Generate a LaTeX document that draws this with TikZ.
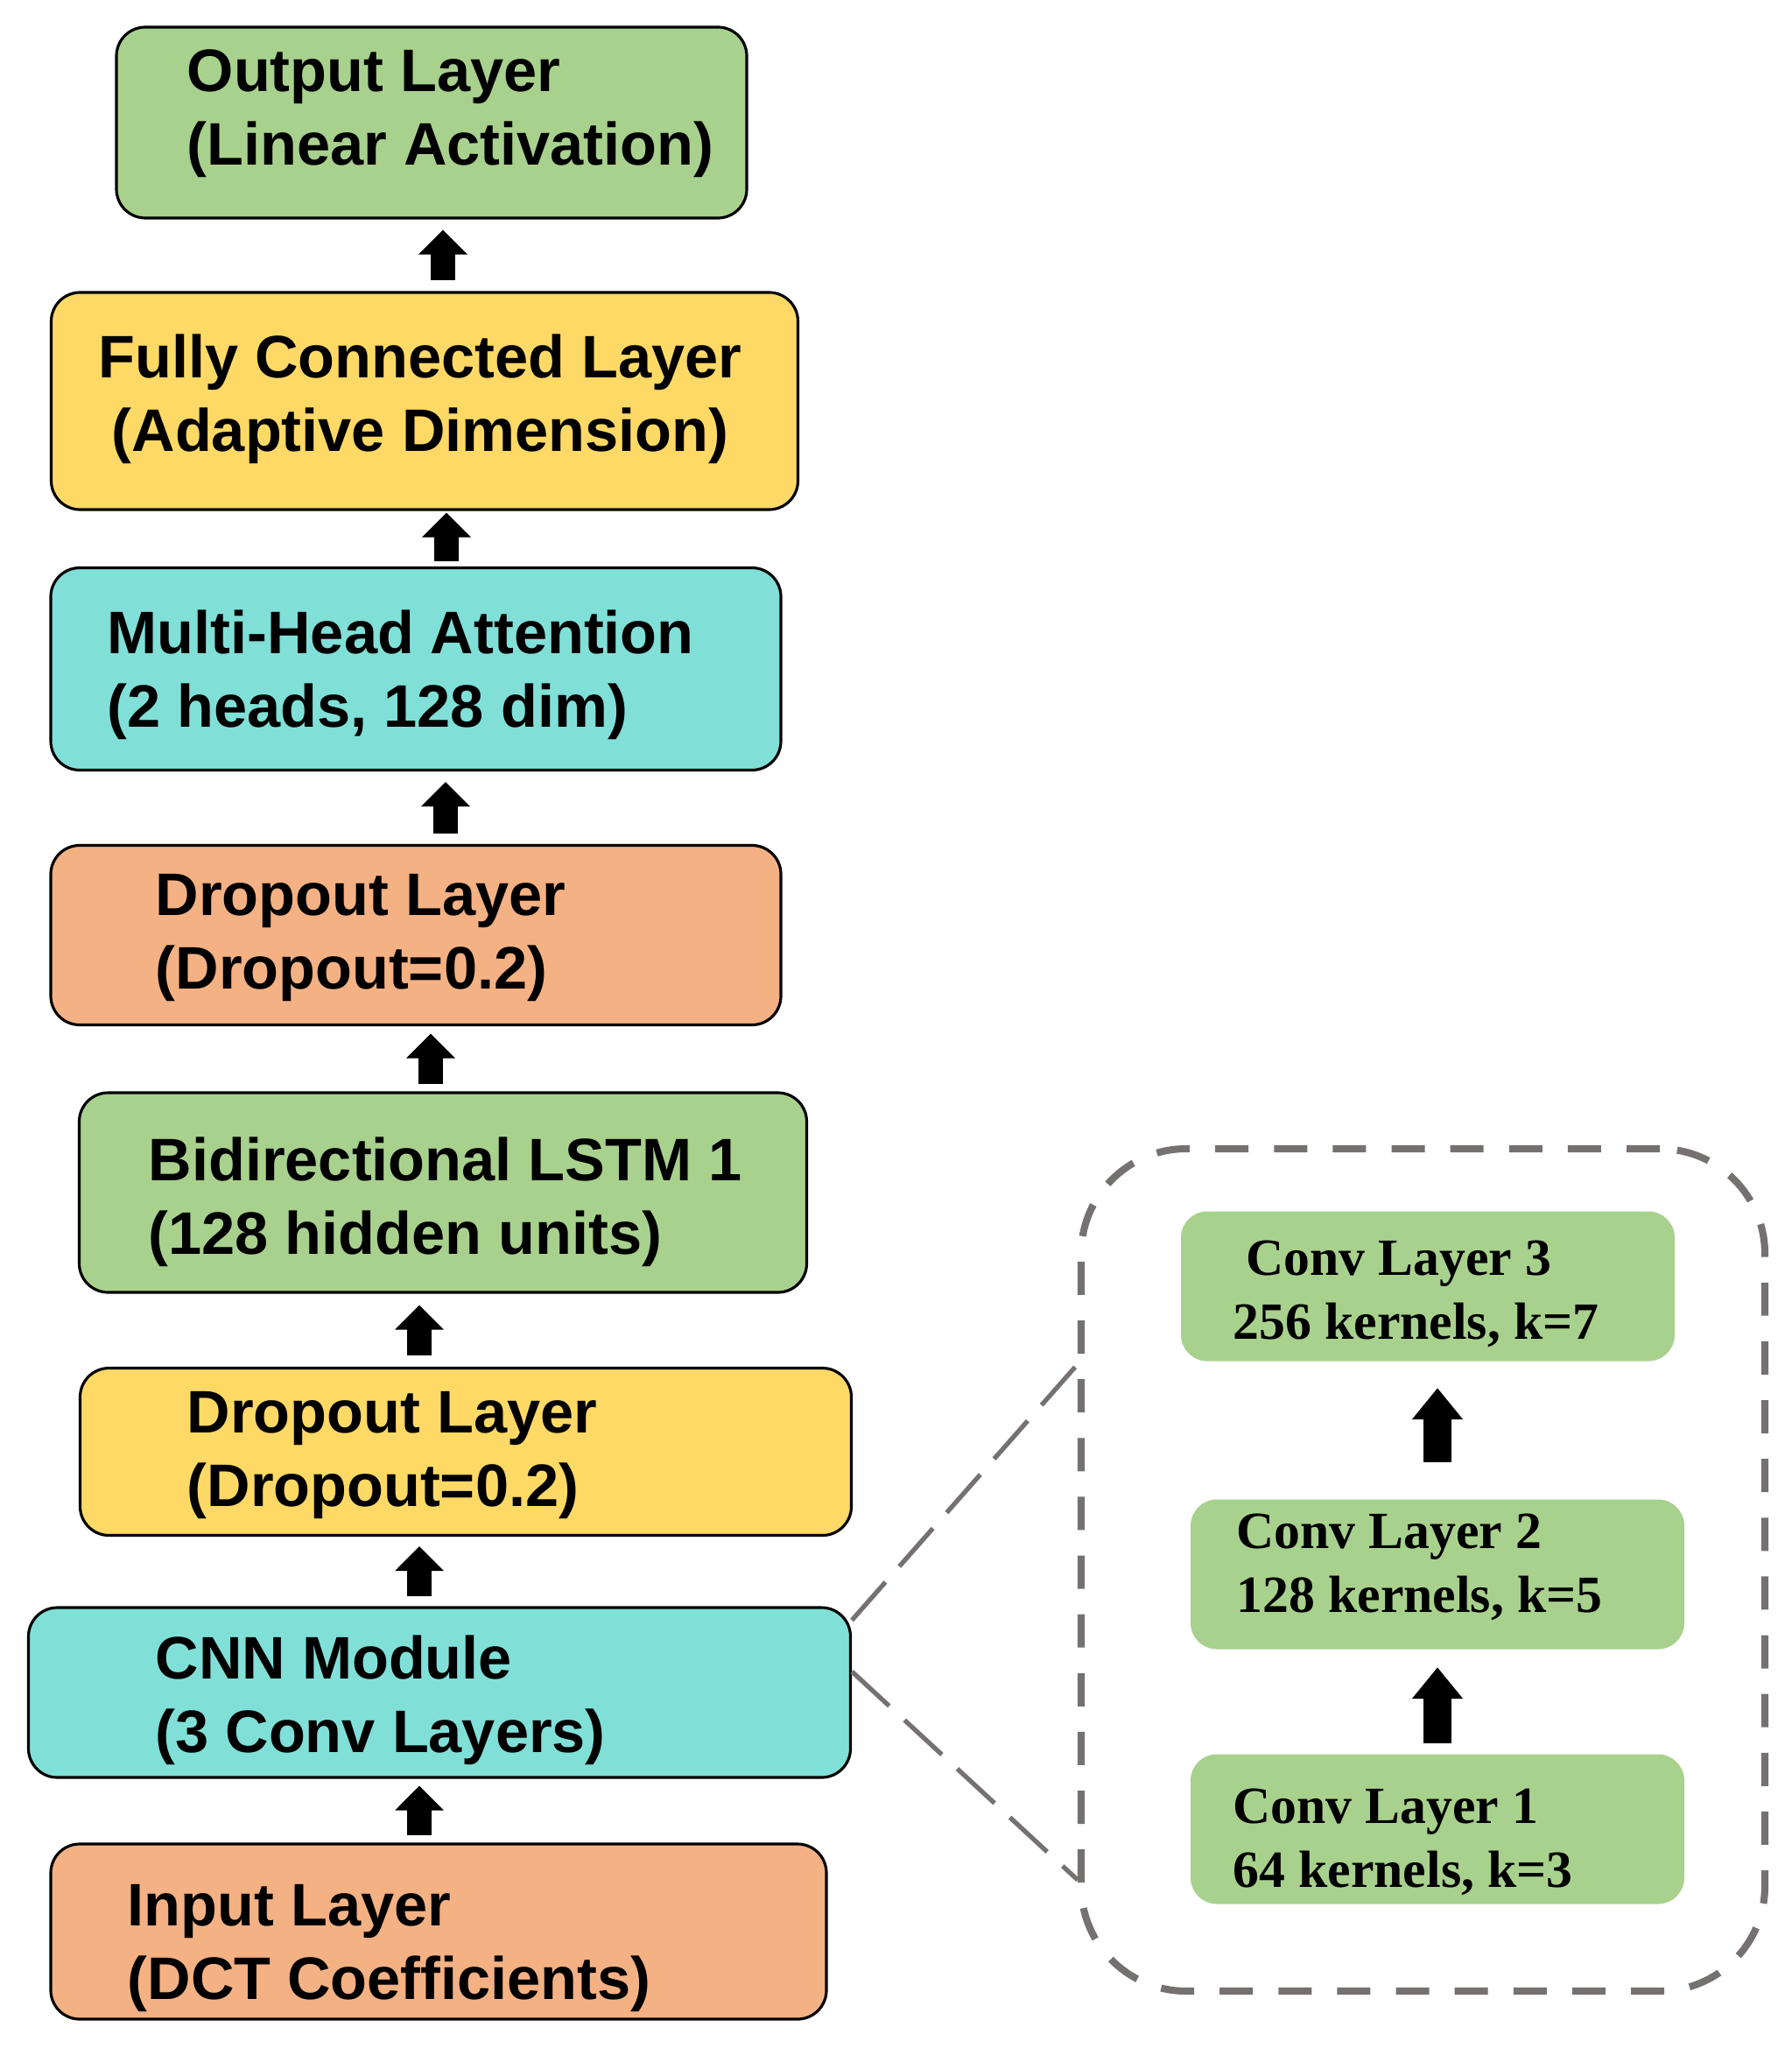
\documentclass[tikz,border=0pt]{standalone}
\usepackage{fontspec}
\setmainfont{Liberation Sans}
\newfontfamily\convfont{Liberation Serif}
\usetikzlibrary{arrows.meta}
\definecolor{laygreen}{RGB}{169,209,142}
\definecolor{layyellow}{RGB}{255,217,102}
\definecolor{laycyan}{RGB}{128,224,216}
\definecolor{layorange}{RGB}{244,177,131}
\definecolor{framegray}{RGB}{118,113,113}

\begin{document}
\begin{tikzpicture}[
	layer/.style={draw=black, line width=0.9pt, rounded corners=0.33cm, inner sep=0pt},
	conv/.style={fill=laygreen, rounded corners=0.3cm, inner sep=0pt, minimum width=5.64cm, minimum height=1.71cm},
	txt/.style={font=\fontsize{19.5}{23.8}\selectfont\bfseries, align=left, anchor=west, inner sep=0pt},
	convtxt/.style={font=\convfont\fontsize{17}{20.8}\selectfont\bfseries, align=left, anchor=west, inner sep=0pt},
	flow/.style={line width=0.28cm, -{Triangle[width=0.54cm,length=0.28cm]}, shorten <=0.12cm, shorten >=0.12cm},
	convflow/.style={line width=0.32cm, -{Triangle[width=0.56cm,length=0.36cm]}},
	zoomline/.style={framegray, line width=1.5pt, dash pattern=on 16.5pt off 6.8pt}
	]
	\useasboundingbox (0,0) rectangle (20.46,-23.39);

	% Main stack
	\node[layer, fill=laygreen, minimum width=7.20cm, minimum height=2.18cm] (out) at (4.93,-1.40) {};
	\node[layer, fill=layyellow, minimum width=8.53cm, minimum height=2.48cm] (fc) at (4.85,-4.58) {};
	\node[layer, fill=laycyan, minimum width=8.34cm, minimum height=2.31cm] (mha) at (4.75,-7.64) {};
	\node[layer, fill=layorange, minimum width=8.34cm, minimum height=2.05cm] (drop) at (4.75,-10.68) {};
	\node[layer, fill=laygreen, minimum width=8.31cm, minimum height=2.28cm] (lstm) at (5.06,-13.62) {};
	\node[layer, fill=layyellow, minimum width=8.81cm, minimum height=1.91cm] (dropb) at (5.32,-16.58) {};
	\node[layer, fill=laycyan, minimum width=9.39cm, minimum height=1.94cm] (cnn) at (5.02,-19.33) {};
	\node[layer, fill=layorange, minimum width=8.86cm, minimum height=2.00cm] (inp) at (5.01,-22.06) {};

	\node[txt] (outT) at (2.13,-1.30) {Output Layer\\(Linear Activation)};
	\node[txt, anchor=center, align=center] (fcT) at (4.80,-4.56) {Fully Connected Layer\\(Adaptive Dimension)};
	\node[txt] (mhaT) at (1.22,-7.71) {Multi-Head Attention\\(2 heads, 128 dim)};
	\node[txt] (dropT) at (1.77,-10.71) {Dropout Layer\\(Dropout=0.2)};
	\node[txt] (lstmT) at (1.69,-13.73) {Bidirectional LSTM 1\\(128 hidden units)};
	\node[txt] (dropbT) at (2.13,-16.62) {Dropout Layer\\(Dropout=0.2)};
	\node[txt] (cnnT) at (1.77,-19.42) {CNN Module\\(3 Conv Layers)};
	\node[txt] (inpT) at (1.45,-22.25) {Input Layer\\(DCT Coefficients)};

	% Arrows between layers
	\draw[flow, shorten <=0.08cm, shorten >=0.08cm] ([xshift=-0.22cm]inp.north) -- ([xshift=-0.22cm]inp.north |- cnn.south);
	\draw[flow, shorten <=0.11cm, shorten >=0.11cm] ([xshift=-0.23cm]cnn.north) -- ([xshift=-0.23cm]cnn.north |- dropb.south);
	\draw[flow, shorten <=0.13cm, shorten >=0.13cm] ([xshift=-0.53cm]dropb.north) -- ([xshift=-0.53cm]dropb.north |- lstm.south);
	\draw[flow, shorten <=0.085cm, shorten >=0.085cm] ([xshift=-0.14cm]lstm.north) -- ([xshift=-0.14cm]lstm.north |- drop.south);
	\draw[flow] ([xshift=0.34cm]drop.north) -- ([xshift=0.34cm]drop.north |- mha.south);
	\draw[flow, shorten <=0.06cm, shorten >=0.02cm] ([xshift=0.35cm]mha.north) -- ([xshift=0.35cm]mha.north |- fc.south);
	\draw[flow] ([xshift=0.21cm]fc.north) -- ([xshift=0.21cm]fc.north |- out.south);

	% Conv detail
	\node[draw=framegray, line width=2.3pt, dash pattern=on 10.8pt off 8.3pt, rounded corners=1.2cm, minimum width=7.81cm, minimum height=9.62cm] (zoom) at (16.255,-17.93) {};

	\node[conv] (c3) at (16.31,-14.69) {};
	\node[conv] (c2) at (16.42,-17.98) {};
	\node[conv] (c1) at (16.42,-20.89) {};

	\node[convtxt] (c3T) at (14.08,-14.78) {\hspace*{0.15cm}Conv Layer 3\\256 kernels, k=7};
	\node[convtxt] (c2T) at (14.12,-17.90) {Conv Layer 2\\128 kernels, k=5};
	\node[convtxt] (c1T) at (14.08,-21.04) {Conv Layer 1\\64 kernels, k=3};

	\draw[convflow, shorten <=0.12cm, shorten >=0.20cm] (c1.north) -- (c2.south);
	\draw[convflow, shorten <=0.42cm, shorten >=0.30cm] (c2.north) -- (c2.north |- c3.south);

	\draw[zoomline] ([yshift=-0.16cm]cnn.north east) -- ([yshift=2.35cm]zoom.west);
	\draw[zoomline] ([yshift=0.24cm]cnn.east) -- ([yshift=-3.54cm]zoom.west);
\end{tikzpicture}
\end{document}
